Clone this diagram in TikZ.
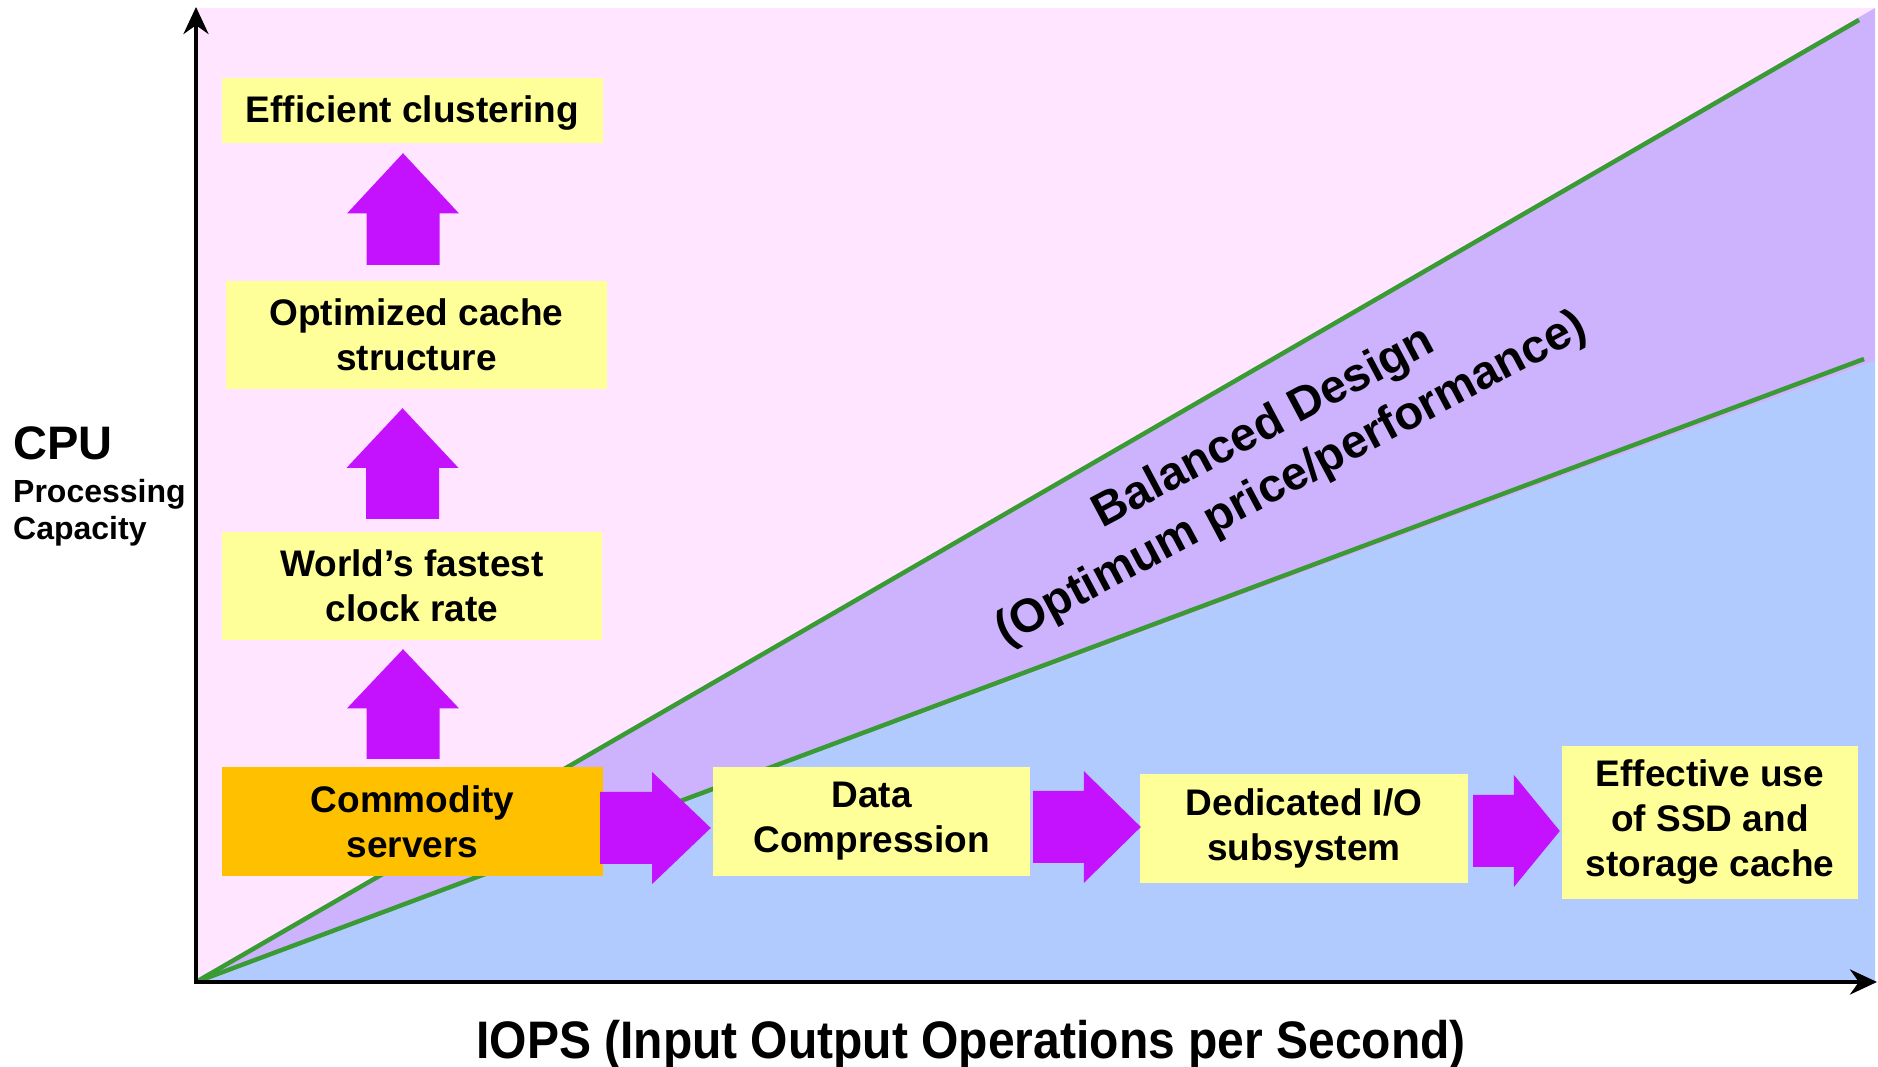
\documentclass[tikz,border=0pt]{standalone}
\usepackage{fontspec}
\setmainfont{Liberation Sans}
\usetikzlibrary{calc,arrows.meta}

\definecolor{bgpink}{HTML}{FFE5FF}
\definecolor{bandpurple}{HTML}{CDB3FD}
\definecolor{ioblue}{HTML}{B2CBFF}
\definecolor{linegreen}{HTML}{3A9B35}
\definecolor{boxyellow}{HTML}{FFFF99}
\definecolor{boxorange}{HTML}{FFC000}
\definecolor{arrowmagenta}{HTML}{C412FF}

\tikzset{
  box/.style={fill=boxyellow, align=center, inner sep=0pt,
    font=\bfseries\fontsize{37}{45}\selectfont},
  blockarrow/.style={fill=arrowmagenta},
  axis/.style={line width=4pt, -{Stealth[length=27pt,width=25pt]}},
  greenline/.style={draw=linegreen, line width=4.5pt},
}

% big block arrows between two anchors
\newcommand{\rightblock}[2]{%
  \fill[blockarrow] let \p1=(#1), \p2=(#2), \n1={0.47*(\x2-\x1)} in
    (\x1,\y1+36pt) -- (\x1+\n1,\y1+36pt) -- (\x1+\n1,\y1+56pt) -- (\x2,\y1)
    -- (\x1+\n1,\y1-56pt) -- (\x1+\n1,\y1-36pt) -- (\x1,\y1-36pt) -- cycle;}
\newcommand{\upblock}[2]{%
  \fill[blockarrow] let \p1=(#1), \p2=(#2), \n1={0.46*(\y2-\y1)} in
    (\x1-36.5pt,\y1) -- (\x1-36.5pt,\y1+\n1) -- (\x1-56pt,\y1+\n1) -- (\x1,\y2)
    -- (\x1+56pt,\y1+\n1) -- (\x1+36.5pt,\y1+\n1) -- (\x1+36.5pt,\y1) -- cycle;}

\begin{document}
\begin{tikzpicture}[x=1pt,y=1pt]
  \useasboundingbox (0,0) rectangle (1878,1067);

  % regions
  \coordinate (O) at (196,85);
  \fill[bgpink] (O) rectangle (1875,1059);
  \fill[bandpurple] (O) -- (1875,1059) -- (1875,706) -- cycle;
  \fill[ioblue] (O) -- (1875,706) -- (1875,85) -- cycle;
  \draw[greenline] (O) -- (1859,1047);
  \draw[greenline] (O) -- (1864,708);

  % axes
  \coordinate (ytop) at (196,1060);
  \coordinate (xend) at (1877,85);
  \draw[axis] ([yshift=-2pt]O) -- (ytop);
  \draw[axis] ([xshift=-2pt]O) -- (xend);

  % cpu side
  \path (412.5,956.5) node[box, minimum width=381pt, minimum height=65pt, text depth=3pt] (eff) {Efficient clustering};
  \path (416.5,732) node[box, minimum width=381pt, minimum height=108pt] (opt) {Optimized cache\\structure};
  \path (412,481) node[box, minimum width=380pt, minimum height=108pt] (world) {World’s fastest\\clock rate};
  \path (412.5,245.5) node[box, fill=boxorange, minimum width=381pt, minimum height=109pt] (comm) {Commodity\\servers};

  % io side
  \path (871.5,245.5) node[box, minimum width=317pt, minimum height=109pt] (data) {Data\\Compression};
  \path (1304,238.5) node[box, minimum width=328pt, minimum height=109pt] (dedic) {Dedicated I/O\\subsystem};
  \path (1710,244.5) node[box, minimum width=296pt, minimum height=153pt] (ssd) {Effective use\\of SSD and\\storage cache};

  \upblock{[shift={(-9.5,8)}]comm.north}{[yshift=-9pt]world.south}
  \upblock{[shift={(-9.5,13)}]world.north}{[yshift=-19pt]opt.south}
  \upblock{[shift={(-13.5,16)}]opt.north}{[yshift=-10pt]eff.south}

  \rightblock{[shift={(-3,-6.5)}]comm.east}{[xshift=-2pt]data.west}
  \rightblock{[shift={(3,-5.5)}]data.east}{[xshift=1pt]dedic.west}
  \rightblock{[shift={(5,-2.5)}]dedic.east}{[xshift=-2pt]ssd.west}

  % labels
  \path (1278,613) node[rotate=28, align=center, font=\bfseries\fontsize{47}{58}\selectfont] (balanced) {Balanced Design\\(Optimum price/performance)};
  \path (13,607) node[anchor=base west, inner sep=0pt, font=\bfseries\fontsize{47}{56}\selectfont] (cpu) {CPU};
  \path (13,564) node[anchor=base west, inner sep=0pt, font=\bfseries\fontsize{32}{38}\selectfont] (proc) {Processing};
  \path (13,527) node[anchor=base west, inner sep=0pt, font=\bfseries\fontsize{32}{38}\selectfont] (capa) {Capacity};
  \path (971,8) node[anchor=base, inner sep=0pt, font=\bfseries\fontsize{48}{58}\selectfont] (iops) {\scalebox{1}[1.1]{IOPS (Input Output Operations per Second)}};
\end{tikzpicture}
\end{document}
